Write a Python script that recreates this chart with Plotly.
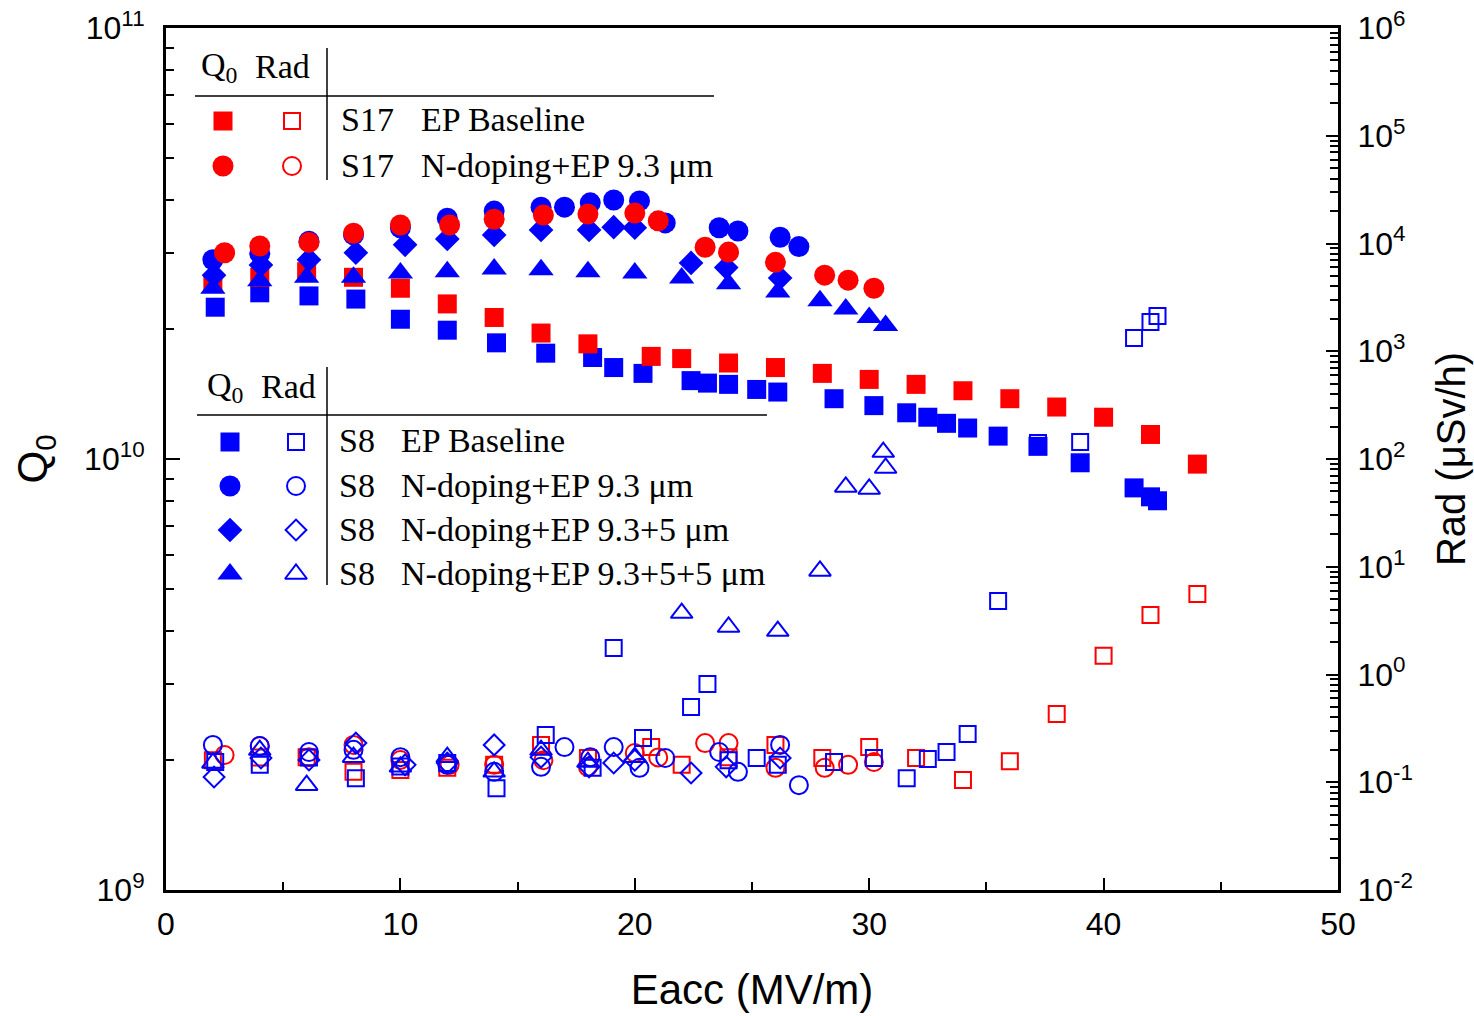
import plotly.graph_objects as go

# ---------------- data ----------------
# Q0 (left axis)
s17_bl_E = [2, 4, 6, 8, 10, 12, 14, 16, 18, 20.7, 22, 24, 26, 28, 30, 32, 34, 36, 38, 40, 42, 44]
s17_bl_Q = [2.56e10, 2.64e10, 2.72e10, 2.64e10, 2.49e10, 2.29e10, 2.13e10, 1.96e10, 1.85e10, 1.73e10,
            1.71e10, 1.67e10, 1.63e10, 1.58e10, 1.53e10, 1.49e10, 1.44e10, 1.38e10, 1.32e10, 1.25e10,
            1.14e10, 9.73e9]

s17_nd_E = [2.5, 4, 6.1, 8, 10, 12.1, 14, 16.1, 18, 20, 21, 23, 24, 26, 28.1, 29.1, 30.2]
s17_nd_Q = [3.01e10, 3.12e10, 3.18e10, 3.34e10, 3.49e10, 3.49e10, 3.60e10, 3.68e10, 3.70e10, 3.72e10,
            3.57e10, 3.10e10, 3.02e10, 2.86e10, 2.67e10, 2.60e10, 2.49e10]

s8_bl_E = [2.1, 4, 6.1, 8.1, 10, 12, 14.1, 16.2, 18.2, 19.1, 20.35, 22.4, 23.1, 24, 25.2, 26.1, 28.5,
           30.2, 31.6, 32.5, 33.3, 34.2, 35.5, 37.2, 39.0, 41.3, 42.0, 42.3]
s8_bl_Q = [2.25e10, 2.43e10, 2.39e10, 2.35e10, 2.11e10, 1.99e10, 1.86e10, 1.76e10, 1.72e10, 1.63e10,
           1.58e10, 1.52e10, 1.50e10, 1.49e10, 1.45e10, 1.43e10, 1.38e10, 1.33e10, 1.28e10, 1.25e10,
           1.21e10, 1.18e10, 1.13e10, 1.07e10, 9.8e9, 8.57e9, 8.17e9, 8.0e9]

s8_n93_E = [2, 4, 6.1, 8, 10, 12, 14, 16, 17, 18.1, 19.1, 20.2, 21.3, 23.6, 24.4, 26.2, 27]
s8_n93_Q = [2.90e10, 3.0e10, 3.2e10, 3.31e10, 3.44e10, 3.62e10, 3.76e10, 3.84e10, 3.84e10, 3.93e10,
            3.99e10, 3.97e10, 3.53e10, 3.44e10, 3.38e10, 3.27e10, 3.11e10]

s8_n935_E = [2.05, 4.05, 6.1, 8.1, 10.2, 12, 14, 16, 18.05, 19.1, 20, 22.4, 23.9, 26.2]
s8_n935_Q = [2.67e10, 2.82e10, 2.90e10, 3.01e10, 3.14e10, 3.24e10, 3.31e10, 3.40e10, 3.40e10, 3.45e10,
             3.44e10, 2.85e10, 2.78e10, 2.63e10]

s8_n9355_E = [2, 4, 6, 8, 10, 12, 14, 16, 18, 20, 22, 24, 26.1, 27.9, 29, 30, 30.7]
s8_n9355_Q = [2.49e10, 2.59e10, 2.64e10, 2.64e10, 2.70e10, 2.72e10, 2.76e10, 2.75e10, 2.72e10, 2.70e10,
              2.63e10, 2.55e10, 2.44e10, 2.33e10, 2.23e10, 2.13e10, 2.04e10]

# Radiation (right axis)
s17_bl_R = [0.16, 0.17, 0.171, 0.125, 0.130, 0.136, 0.145, 0.222, 0.168, 0.212, 0.145, 0.171, 0.222,
            0.168, 0.212, 0.168, 0.105, 0.157, 0.43, 1.49, 3.57, 5.59]
s17_nd_R = [0.179, 0.217, 0.171, 0.222, 0.161, 0.145, 0.145, 0.16, 0.139, 0.187, 0.17, 0.231, 0.231,
            0.136, 0.136, 0.145, 0.154]
s8_bl_R = [0.154, 0.145, 0.17, 0.109, 0.14, 0.151, 0.088, 0.275, 0.136, 1.76, 0.258, 0.50, 0.817, 0.16,
           0.168, 0.145, 0.154, 0.168, 0.109, 0.164, 0.191, 0.28, 4.81, 141, 144, 1330, 1870, 2120]
s8_n93_R = [0.222, 0.217, 0.191, 0.2, 0.171, 0.145, 0.125, 0.139, 0.212, 0.171, 0.212, 0.136, 0.168,
            0.191, 0.125, 0.222, 0.094]
s8_n935_R = [0.112, 0.168, 0.161, 0.231, 0.145, 0.151, 0.222, 0.171, 0.139, 0.151, 0.16, 0.122, 0.139,
             0.168]
s8_n9355_rad_E = [2, 4, 6, 8, 10, 12, 14, 16, 18, 20, 22, 24, 26.1, 27.9, 29, 30, 30.6, 30.7]
s8_n9355_R = [0.151, 0.199, 0.094, 0.171, 0.139, 0.171, 0.125, 0.199, 0.154, 0.171, 3.72, 2.76, 2.53,
              9.14, 55, 52.7, 116, 82.5]

# legend content
legend1_labels = [("S17", "EP Baseline"), ("S17", "N-doping+EP 9.3 μm")]
legend2_labels = [("S8", "EP Baseline"), ("S8", "N-doping+EP 9.3 μm"),
                  ("S8", "N-doping+EP 9.3+5 μm"), ("S8", "N-doping+EP 9.3+5+5 μm")]

RED = "#FF0000"
BLUE = "#0000FF"
SANS = "Liberation Sans, Arial, sans-serif"
SERIF = "Liberation Serif, Times New Roman, serif"

fig = go.Figure()

def q_trace(E, Q, sym, color, size):
    fig.add_trace(go.Scatter(x=E, y=Q, mode="markers", xaxis="x", yaxis="y", showlegend=False,
                             marker=dict(symbol=sym, color=color, size=size, line=dict(width=0))))

def r_trace(E, R, sym, color, size):
    fig.add_trace(go.Scatter(x=E, y=R, mode="markers", xaxis="x", yaxis="y2", showlegend=False,
                             marker=dict(symbol=sym + "-open", color=color, size=size,
                                         line=dict(width=2, color=color))))

# Rad (open) first, red below blue
r_trace(s17_bl_E, s17_bl_R, "square", RED, 16)
r_trace(s17_nd_E, s17_nd_R, "circle", RED, 18)
r_trace(s8_bl_E, s8_bl_R, "square", BLUE, 16)
r_trace(s8_n93_E, s8_n93_R, "circle", BLUE, 18)
r_trace(s8_n935_E, s8_n935_R, "diamond", BLUE, 16)
r_trace(s8_n9355_rad_E, s8_n9355_R, "triangle-up", BLUE, 19)

# Q0 (filled)
q_trace(s8_bl_E, s8_bl_Q, "square", BLUE, 19)
q_trace(s17_bl_E, s17_bl_Q, "square", RED, 19)
q_trace(s8_n93_E, s8_n93_Q, "circle", BLUE, 21)
q_trace(s8_n935_E, s8_n935_Q, "diamond", BLUE, 19)
q_trace(s8_n9355_E, s8_n9355_Q, "triangle-up", BLUE, 22)
q_trace(s17_nd_E, s17_nd_Q, "circle", RED, 21)

# ---------------- legend (drawn as a table inside the plot) ----------------
L, R_, T, B = 166, 1338, 28, 890
def px(xp): return (xp - L) / (R_ - L)
def py(yp): return 1 - (yp - T) / (B - T)

def leg_marker(xp, yp, sym, color, size, filled):
    m = dict(symbol=sym if filled else sym + "-open", color=color, size=size,
             line=dict(width=0 if filled else 2, color=color))
    fig.add_trace(go.Scatter(x=[px(xp)], y=[py(yp)], mode="markers", xaxis="x2", yaxis="y3",
                             showlegend=False, hoverinfo="skip", marker=m))

annots = []
shapes = []
def text(xp, yp, s, anchor="left", size=34):
    annots.append(dict(x=px(xp), y=py(yp), xref="paper", yref="paper", text=s, showarrow=False,
                       xanchor=anchor, yanchor="middle", font=dict(family=SERIF, size=size, color="black")))
def line(x0, y0, x1, y1):
    shapes.append(dict(type="line", xref="paper", yref="paper", x0=px(x0), y0=py(y0), x1=px(x1), y1=py(y1),
                       line=dict(color="black", width=1.5)))

# block 1
text(219, 67, "Q<sub>0</sub>", "center")
text(282, 67, "Rad", "center")
line(327, 48, 327, 180)
line(195, 96, 714, 96)
b1 = [("square", 19, 16), ("circle", 21, 18)]
for i, ((s, d), (sym, fs, os_)) in enumerate(zip(legend1_labels, b1)):
    yy = 121 + i * 45
    leg_marker(223, yy, sym, RED, fs, True)
    leg_marker(292, yy, sym, RED, os_, False)
    text(339, yy - 1, s)
    text(419, yy - 1, d)

# block 2
text(225, 387, "Q<sub>0</sub>", "center")
text(288, 387, "Rad", "center")
line(327, 367, 327, 585)
line(197, 415, 767, 415)
b2 = [("square", 19, 16), ("circle", 21, 18), ("diamond", 19, 16), ("triangle-up", 22, 19)]
for i, ((s, d), (sym, fs, os_)) in enumerate(zip(legend2_labels, b2)):
    yy = 442 + i * 44
    leg_marker(230, yy, sym, BLUE, fs, True)
    leg_marker(296, yy, sym, BLUE, os_, False)
    text(337, yy - 1, s)
    text(399, yy - 1, d)

# ---------------- axes ----------------
def minor_log(lo, hi):
    vals = []
    for e in range(lo, hi):
        for k in range(2, 10):
            vals.append(k * 10.0 ** e)
    return vals

tickfont = dict(family=SANS, size=32, color="black")

q_ticks = [1e9, 1e10, 1e11]
q_text = ["10<sup>9</sup>", "10<sup>10</sup>", "10<sup>11</sup>"]
r_exps = list(range(-2, 7))
r_ticks = [10.0 ** e for e in r_exps]
r_text = ["10<sup>%s</sup>" % (str(e) if e >= 0 else "-" + str(-e)) for e in r_exps]

fig.update_layout(
    width=1474, height=1016,
    margin=dict(l=L, r=1474 - R_, t=T, b=1016 - B, autoexpand=False),
    plot_bgcolor="white", paper_bgcolor="white",
    annotations=annots, shapes=shapes,
    xaxis=dict(range=[0, 50], tick0=0, dtick=10, showline=True, linecolor="black", linewidth=3,
               mirror=True, ticks="inside", ticklen=12, tickwidth=2, tickcolor="black",
               minor=dict(ticks="inside", dtick=5, tick0=0, ticklen=8, tickwidth=2, tickcolor="black"),
               showgrid=False, zeroline=False, tickfont=tickfont, ticklabelstandoff=4, automargin=False,
               title=dict(text="Eacc (MV/m)", font=dict(family=SANS, size=42, color="black"), standoff=34)),
    yaxis=dict(type="log", range=[9, 11], tickmode="array", tickvals=q_ticks, ticktext=q_text,
               showline=True, linecolor="black", linewidth=3, ticks="inside", ticklen=14, tickwidth=2,
               tickcolor="black", automargin=False,
               minor=dict(tickmode="array", tickvals=minor_log(9, 11), ticks="inside", ticklen=8,
                          tickwidth=2, tickcolor="black"),
               showgrid=False, zeroline=False, tickfont=tickfont, ticklabelstandoff=12,
               title=dict(text="Q<sub>0</sub>", font=dict(family=SANS, size=42, color="black"), standoff=24)),
    yaxis2=dict(type="log", range=[-2, 6], overlaying="y", side="right", tickmode="array",
                tickvals=r_ticks, ticktext=r_text, showline=True, linecolor="black", linewidth=3,
                ticks="inside", ticklen=12, tickwidth=2, tickcolor="black", automargin=False,
                minor=dict(tickmode="array", tickvals=minor_log(-2, 6), ticks="inside", ticklen=8,
                           tickwidth=2, tickcolor="black"),
                showgrid=False, zeroline=False, tickfont=tickfont, ticklabelstandoff=10,
                title=dict(text="Rad (μSv/h)", font=dict(family=SANS, size=40, color="black"), standoff=26)),
    xaxis2=dict(range=[0, 1], overlaying="x", visible=False, fixedrange=True, automargin=False),
    yaxis3=dict(range=[0, 1], overlaying="y", visible=False, fixedrange=True, automargin=False),
)

fig.write_html("out.html")
